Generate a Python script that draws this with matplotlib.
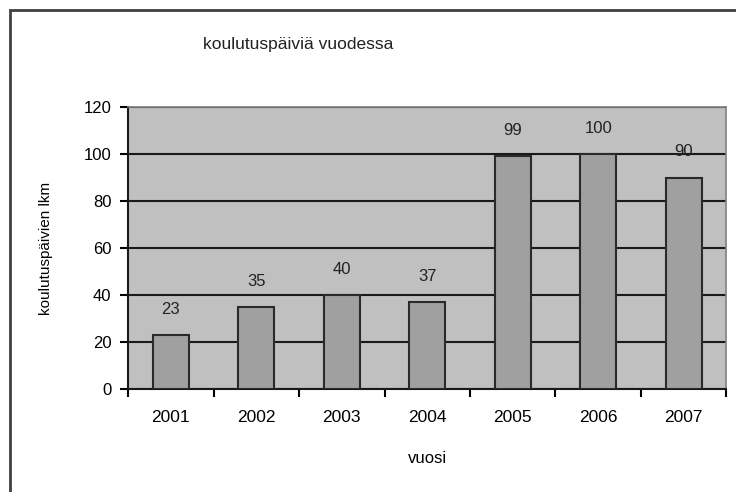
import matplotlib.pyplot as plt
import matplotlib.patches as mpatches
import numpy as np

plt.rcParams['font.family'] = ['Liberation Sans', 'DejaVu Sans']

years = ["2001", "2002", "2003", "2004", "2005", "2006", "2007"]
days = [23, 35, 40, 37, 99, 100, 90]
y_ticks = [0, 20, 40, 60, 80, 100, 120]

fig = plt.figure(figsize=(7.36, 4.92), dpi=100)
ax = fig.add_axes([0.174, 0.2094, 0.813, 0.573])

# Excel-style chart frame
frame = mpatches.Rectangle((0.0136, -0.1), 1.1, 1.08, transform=fig.transFigure,
                           fill=False, edgecolor="#404040", linewidth=2, clip_on=False)
fig.patches.append(frame)

x = np.arange(len(years))
ax.set_facecolor("#c0c0c0")
ax.bar(x, days, width=0.42, color="#a0a0a0", edgecolor="#2a2a2a", linewidth=1.5, zorder=3)

for xi, v in zip(x, days):
    ax.annotate(str(v), (xi, v), xytext=(0, 13), textcoords="offset points",
                ha="center", va="bottom", fontsize=12, color="#222222")

ax.set_ylim(0, 120)
ax.set_xlim(-0.5, len(years) - 0.5)
ax.set_yticks(y_ticks)
ax.yaxis.grid(True, color="#1a1a1a", linewidth=1.5, zorder=1)
ax.set_axisbelow(True)

ax.set_xticks(x)
ax.set_xticklabels(years)
ax.set_xticks(np.arange(-0.5, len(years), 1.0), minor=True)
ax.tick_params(axis="x", which="major", length=0, pad=15, labelsize=12.5)
ax.tick_params(axis="x", which="minor", length=6, width=1.5, direction="out")
ax.tick_params(axis="y", length=6, width=1.5, labelsize=12, pad=6)

for s in ["left", "bottom"]:
    ax.spines[s].set_color("#1a1a1a")
    ax.spines[s].set_linewidth(1.5)
for s in ["top", "right"]:
    ax.spines[s].set_color("#808080")
    ax.spines[s].set_linewidth(1.2)

fig.text(298 / 736, 1 - 45 / 492, "koulutuspäiviä vuodessa", fontsize=12.5,
         ha="center", va="center", color="#222222")
ax.set_ylabel("koulutuspäivien lkm", fontsize=11)
ax.yaxis.set_label_coords(-0.125, 0.5)
ax.set_xlabel("vuosi", fontsize=12, labelpad=19)

plt.savefig("out.png", dpi=100)
